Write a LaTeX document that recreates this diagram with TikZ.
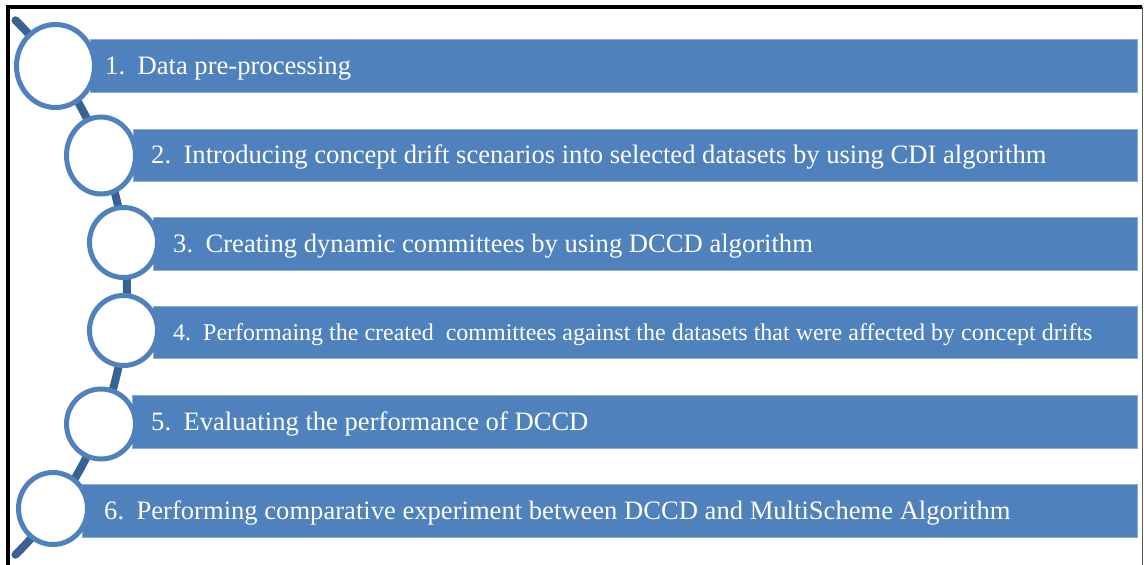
\documentclass[tikz,border=0pt]{standalone}
\usepackage{fontspec}
\setmainfont{Liberation Serif}
\usetikzlibrary{shapes.geometric}
\definecolor{barblue}{RGB}{79,129,189}
\definecolor{baredge}{RGB}{140,172,214}
\definecolor{spine}{RGB}{56,98,148}
\definecolor{sideline}{RGB}{90,90,90}
\tikzset{
  bar/.style={rectangle, fill=barblue, draw=baredge, line width=0.8pt,
              inner sep=0pt, anchor=north west},
  ring/.style={ellipse, fill=white, draw=barblue, line width=5pt, inner sep=0pt},
  label/.style={anchor=base west, text=white, inner sep=0pt},
  big/.style={font=\fontsize{26.6}{30}\selectfont},
}
\begin{document}
\begin{tikzpicture}[x=1pt, y=-1pt]
\useasboundingbox (0,0) rectangle (1144,565);
% frame
\draw[line width=4pt] (8,565) -- (8,7) -- (1142,7);
\draw[line width=1pt, sideline] (1142,7) -- (1142,565);
% curved spine through the circles
\draw[spine, line width=8pt, line cap=round]
  (-249,287.5) ++(-45.3:376) arc[start angle=-45.3, end angle=45.3, radius=376];
% bars
\node[bar, minimum width=1047pt, minimum height=53pt] (b1) at (90,39) {};
\node[bar, minimum width=1004pt, minimum height=52.5pt] (b2) at (133,128.5) {};
\node[bar, minimum width=984pt, minimum height=53.5pt] (b3) at (153,216.5) {};
\node[bar, minimum width=984pt, minimum height=52pt] (b4) at (153,306) {};
\node[bar, minimum width=1005pt, minimum height=53pt] (b5) at (132,395) {};
\node[bar, minimum width=1055pt, minimum height=53.5pt] (b6) at (82,483.5) {};
% circles
\node[ring, minimum width=78pt, minimum height=83pt] (c1) at (55.5,66) {};
\node[ring, minimum width=69pt, minimum height=77pt] (c2) at (101,155.5) {};
\node[ring, minimum width=68pt, minimum height=70pt] (c3) at (123.5,242.5) {};
\node[ring, minimum width=68pt, minimum height=70pt] (c4) at (123.5,330.5) {};
\node[ring, minimum width=69pt, minimum height=70pt] (c5) at (101,424) {};
\node[ring, minimum width=69pt, minimum height=72pt] (c6) at (53,508.5) {};
% labels
\node[label, big] (t1) at (105,74)
  {1.\hspace{12.5pt}Data pre-processing};
\node[label, big] (t2) at (151,163.5)
  {2.\hspace{12.5pt}Introducing concept drift scenarios into selected datasets by using CDI algorithm};
\node[label, big] (t3) at (173,252)
  {3.\hspace{12.5pt}Creating dynamic committees by using DCCD algorithm};
\node[label, font=\fontsize{24}{28}\selectfont] (t4) at (173,340)
  {4.\hspace{12pt}Performaing the created \ committees against the datasets that were affected by concept drifts};
\node[label, big] (t5) at (151,430)
  {5.\hspace{12.5pt}Evaluating the performance of DCCD};
\node[label, big] (t6) at (104,519)
  {6.\hspace{12.5pt}Performing comparative experiment between DCCD and MultiScheme Algorithm};
\end{tikzpicture}
\end{document}
